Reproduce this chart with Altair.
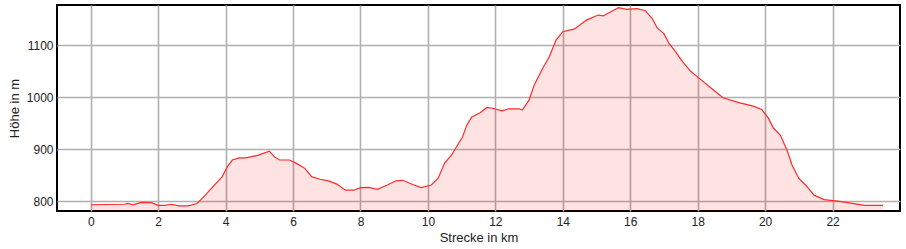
import altair as alt
import pandas as pd

km = [0, 1.0, 1.1, 1.25, 1.5, 1.8, 2.0, 2.2, 2.4, 2.6, 2.9, 3.15, 3.35, 3.62, 3.9, 4.05,
      4.2, 4.4, 4.6, 4.95, 5.3, 5.45, 5.6, 5.9, 6.1, 6.35, 6.55, 6.8, 7.05, 7.3, 7.55, 7.8,
      8.0, 8.25, 8.5, 8.8, 9.05, 9.25, 9.55, 9.8, 10.1, 10.3, 10.5, 10.7, 10.85, 11.03, 11.15,
      11.3, 11.55, 11.75, 11.95, 12.2, 12.4, 12.7, 12.8, 13.0, 13.15, 13.4, 13.6, 13.8, 14.0,
      14.35, 14.7, 15.05, 15.2, 15.4, 15.65, 15.9, 16.2, 16.45, 16.65, 16.8, 17.0, 17.15, 17.35,
      17.55, 17.8, 18.05, 18.35, 18.75, 19.25, 19.65, 19.9, 20.1, 20.25, 20.45, 20.65, 20.8,
      21.0, 21.2, 21.45, 21.75, 22.15, 22.45, 22.95, 23.5]
elev = [793, 794, 795.5, 793, 797.5, 797, 792, 792, 794, 791, 791, 795.5, 808, 827.5, 847, 866,
        879, 883, 883, 888, 896, 885, 879, 879, 872.5, 863, 847, 842, 839, 832.7, 821, 821,
        826, 826.5, 822.5, 831, 839, 840, 832, 826, 831, 843.6, 873.7, 888.5, 904.5, 923.7, 946,
        962, 970, 980, 978, 973.7, 977.5, 977.5, 975, 994, 1023, 1055, 1077.5, 1109.6, 1125.6,
        1131, 1148, 1157.7, 1156, 1163, 1172, 1168.6, 1170, 1166, 1151, 1133, 1122, 1103, 1087,
        1068, 1049, 1036, 1020, 998.6, 989, 982.7, 976, 959, 940, 927, 898, 869,
        843.6, 831, 811.5, 803, 800, 797, 792, 792]

x_ticks = [0, 2, 4, 6, 8, 10, 12, 14, 16, 18, 20, 22]
y_ticks = [800, 900, 1000, 1100]
x_domain = [-1, 24]
y_domain = [781, 1177]

df = pd.DataFrame({"km": km, "elev": elev})

font = "Liberation Sans"

x_enc = alt.X("km:Q", scale=alt.Scale(domain=x_domain, nice=False, zero=False),
              axis=alt.Axis(values=x_ticks, title="Strecke in km", grid=True, ticks=False,
                            domain=False, labelPadding=5, titlePadding=4, format="d"))
y_enc = alt.Y("elev:Q", scale=alt.Scale(domain=y_domain, nice=False, zero=False),
              axis=alt.Axis(values=y_ticks, title="Höhe in m", grid=True, ticks=False,
                            domain=False, labelPadding=4, titlePadding=5, format="d"))

area = alt.Chart(df).mark_area(color="#ff0000", opacity=0.11).encode(
    x=x_enc, y=y_enc, y2=alt.datum(781))
line = alt.Chart(df).mark_line(color="#ff2a2a", strokeWidth=1.2).encode(x="km:Q", y="elev:Q")

chart = (area + line).properties(
    width=843, height=206,
    background="white",
    autosize=alt.AutoSizeParams(type="none"),
    padding={"left": 57, "top": 5, "right": 6, "bottom": 38},
).configure_view(stroke="black", strokeWidth=2).configure_axis(
    gridColor="#b0b0b0", gridWidth=1.6, gridOpacity=1,
    labelFont=font, labelFontSize=12, labelColor="#222",
    titleFont=font, titleFontSize=13, titleFontWeight="normal", titleColor="#222",
)

chart.save("out.html", embed_options={"renderer": "svg", "actions": False})
